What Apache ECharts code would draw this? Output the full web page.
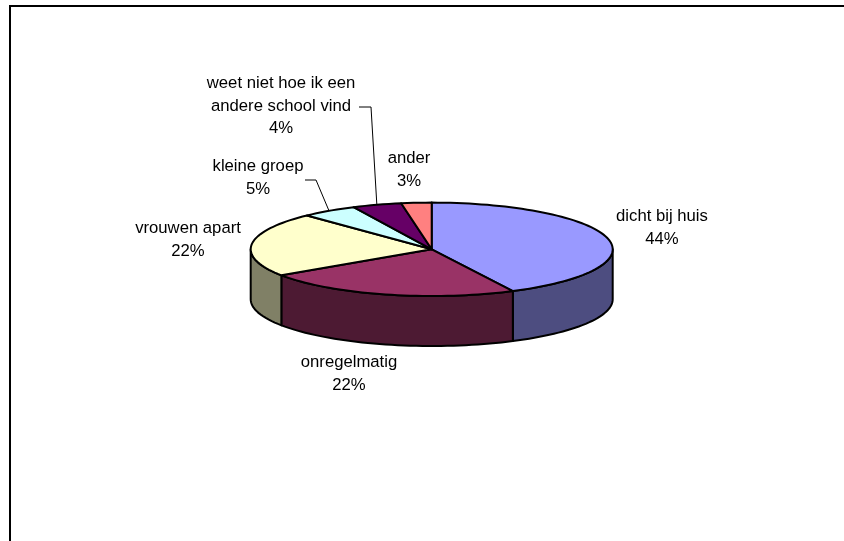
<!DOCTYPE html>
<html><head><meta charset="utf-8">
<style>html,body{margin:0;padding:0;background:#fff}#c{width:844px;height:541px}</style>
<script src="https://cdn.jsdelivr.net/npm/echarts@6/dist/echarts.min.js"></script>
</head><body><div id="c"></div>
<script>
// Printed labels, as shown in the picture
var categories = ['dicht bij huis','onregelmatig','vrouwen apart','kleine groep','weet niet hoe ik een\nandere school vind','ander'];
var percentLabels = [44,22,22,5,4,3];
var sliceShares = [42.6,23.0,22.3,5.0,4.4,2.7];
var topColors = ['#9999FF','#993366','#FFFFCC','#CCFFFF','#660066','#FF8080'];
var sideColors = ['#4D4D80','#4D1A33','#808066','#668080','#330033','#804040'];
// Layout only
var labelCenters = [[662,228],[349,374],[188,240],[258,178],[281,106],[409,170]];
var leaderStarts = [null,null,null,[[305,180],[316,180]],[[359,107],[371,107]],null];
var cx=431.7, cy=249.3, rx=181, ry=46.7, depth=50;

function pt(deg,dz){var a=deg*Math.PI/180;return [cx+rx*Math.sin(a), cy-ry*Math.cos(a)+(dz||0)];}
function arc(a0,a1,dz){var n=Math.max(2,Math.ceil(Math.abs(a1-a0)/2)),r=[];for(var i=0;i<=n;i++)r.push(pt(a0+(a1-a0)*i/n,dz));return r;}
var starts=[],acc=0;
sliceShares.forEach(function(v){starts.push(acc/100*360);acc+=v;});

function renderItem(params,api){
  var i=api.value(0), a0=starts[i], a1=a0+sliceShares[i]/100*360, kids=[];
  var lo=Math.max(a0,90), hi=Math.min(a1,270);
  if(hi>lo){
    var top=arc(lo,hi,0), bot=arc(hi,lo,depth);
    kids.push({type:'polygon',shape:{points:top.concat(bot)},style:{fill:sideColors[i],stroke:'#000',lineWidth:2,lineJoin:'round'}});
  }
  var sector=[[cx,cy]].concat(arc(a0,a1,0));
  kids.push({type:'polygon',z2:5,shape:{points:sector},style:{fill:topColors[i],stroke:'#000',lineWidth:2,lineJoin:'round'}});
  return {type:'group',children:kids};
}
function renderLabel(params,api){
  var i=api.value(0), a0=starts[i], mid=a0+sliceShares[i]/100*180, kids=[];
  if(leaderStarts[i]){
    kids.push({type:'polyline',shape:{points:leaderStarts[i].concat([pt(mid,0)])},style:{fill:null,stroke:'#000',lineWidth:1}});
  }
  kids.push({type:'text',x:labelCenters[i][0],y:labelCenters[i][1],style:{
    text:categories[i]+'\n'+percentLabels[i]+'%',
    font:'16.7px "Liberation Sans", Arial, sans-serif',fill:'#000',align:'center',verticalAlign:'middle',lineHeight:22.5}});
  return {type:'group',children:kids};
}
var idx=categories.map(function(_,i){return [i];});
var chart=echarts.init(document.getElementById('c'),null,{renderer:'canvas'});
chart.setOption({
  animation:false,backgroundColor:'#fff',
  graphic:[{type:'polyline',shape:{points:[[10,541],[10,6],[844,6]]},style:{fill:null,stroke:'#000',lineWidth:2}}],
  series:[
    {type:'custom',coordinateSystem:'none',renderItem:renderItem,data:idx,silent:true,z:2},
    {type:'custom',coordinateSystem:'none',renderItem:renderLabel,data:idx,silent:true,z:3}
  ]
});
</script></body></html>
